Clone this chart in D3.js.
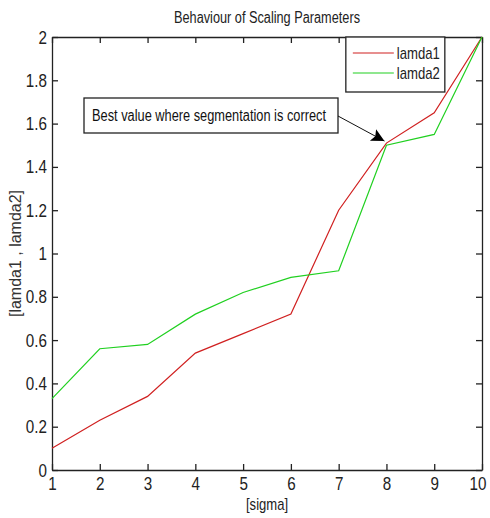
<!DOCTYPE html>
<html>
<head>
<meta charset="utf-8">
<script src="https://cdn.jsdelivr.net/npm/d3@7"></script>
<style>
  body { margin: 0; background: #fff; }
  text { font-family: "Liberation Sans", Arial, sans-serif; }
</style>
</head>
<body>
<div id="vis1"></div>
<script>
// chart values
let sigma = [1, 2, 3, 4, 5, 6, 7, 8, 9, 10]
let lamda1 = [0.1, 0.23, 0.34, 0.54, 0.63, 0.72, 1.2, 1.51, 1.65, 2.0]
let lamda2 = [0.33, 0.56, 0.58, 0.72, 0.82, 0.89, 0.92, 1.5, 1.55, 2.0]
let yTicks = [0, 0.2, 0.4, 0.6, 0.8, 1, 1.2, 1.4, 1.6, 1.8, 2]
let seriesNames = ['lamda1', 'lamda2']
let seriesColors = ['#d02020', '#20d020']
let noteText = 'Best value where segmentation is correct'
let noteAt = [8, 1.51]

let margin = { top: 37, left: 52, right: 8, bottom: 48 },
  width = 490 - margin.left - margin.right,
  height = 518 - margin.top - margin.bottom

let svg = d3.select('#vis1')
  .append('svg')
  .attr('width', 490)
  .attr('height', 518)

let g = svg.append('g')
  .attr('transform', `translate(${margin.left},${margin.top})`)

let x = d3.scaleLinear().domain([1, 10]).range([0, width])
let y = d3.scaleLinear().domain([0, 2]).range([height, 0])

// no narrow font installed, so squeeze text horizontally like Arial Narrow
function narrow(sel, k) {
  sel.each(function() {
    let w = this.getComputedTextLength()
    d3.select(this).attr('textLength', w * k).attr('lengthAdjust', 'spacingAndGlyphs')
  })
}

// axes: matlab-style ticks pointing inward on all four sides
let fmt = d => String(d)
let xAxis = g.append('g')
  .attr('transform', `translate(0,${height})`)
  .call(d3.axisBottom(x).tickValues(sigma).tickSizeInner(-6).tickSizeOuter(0).tickPadding(7).tickFormat(fmt))
g.append('g')
  .call(d3.axisTop(x).tickValues(sigma).tickSizeInner(-6).tickSizeOuter(0).tickFormat(''))
g.append('g')
  .call(d3.axisLeft(y).tickValues(yTicks).tickSizeInner(-6).tickSizeOuter(0).tickPadding(5).tickFormat(fmt))
g.append('g')
  .attr('transform', `translate(${width},0)`)
  .call(d3.axisRight(y).tickValues(yTicks).tickSizeInner(-6).tickSizeOuter(0).tickFormat(''))

g.selectAll('.tick text')
  .attr('font-size', 19)
  .attr('font-family', '"Liberation Sans", Arial, sans-serif')
  .attr('fill', '#222')
  .call(narrow, 0.8)
g.selectAll('.domain, .tick line').attr('stroke', '#222').attr('stroke-width', 1.3)

// last x label sits against the right edge, like the original
xAxis.selectAll('.tick text').filter(d => d === 10)
  .attr('text-anchor', 'end')
  .attr('x', 4)

// lines
let line = d3.line()
  .x((d, i) => x(sigma[i]))
  .y(d => y(d))

;[lamda1, lamda2].forEach((vals, k) => {
  g.append('path')
    .datum(vals)
    .attr('fill', 'none')
    .attr('stroke', seriesColors[k])
    .attr('stroke-width', 1.2)
    .attr('d', line)
})

// title and axis labels
svg.append('text')
  .attr('x', margin.left + width / 2)
  .attr('y', 23)
  .attr('text-anchor', 'middle')
  .attr('font-size', 16)
  .attr('fill', '#222')
  .text('Behaviour of Scaling Parameters')
  .attr('textLength', 186).attr('lengthAdjust', 'spacingAndGlyphs')

svg.append('text')
  .attr('x', margin.left + width / 2)
  .attr('y', 510)
  .attr('text-anchor', 'middle')
  .attr('font-size', 17)
  .attr('fill', '#222')
  .text('[sigma]')
  .attr('textLength', 42).attr('lengthAdjust', 'spacingAndGlyphs')

svg.append('text')
  .attr('transform', `translate(21,${margin.top + height / 2}) rotate(-90)`)
  .attr('text-anchor', 'middle')
  .attr('font-size', 17)
  .attr('fill', '#333')
  .text('[lamda1 , lamda2]')
  .attr('textLength', 127).attr('lengthAdjust', 'spacingAndGlyphs')

// legend
let leg = g.append('g').attr('transform', `translate(${x(7.15)},0)`)
leg.append('rect')
  .attr('width', 99).attr('height', 55)
  .attr('fill', '#fff').attr('stroke', '#222').attr('stroke-width', 1.3)
seriesNames.forEach((name, k) => {
  leg.append('line')
    .attr('x1', 7).attr('x2', 48)
    .attr('y1', 16 + k * 20).attr('y2', 16 + k * 20)
    .attr('stroke', seriesColors[k]).attr('stroke-width', 1.2)
  leg.append('text')
    .attr('x', 51).attr('y', 22 + k * 20)
    .attr('font-size', 17).attr('fill', '#222')
    .text(name)
    .attr('textLength', 43).attr('lengthAdjust', 'spacingAndGlyphs')
})

// annotation box with arrow
svg.append('defs').append('marker')
  .attr('id', 'head')
  .attr('viewBox', '0 0 10 10')
  .attr('refX', 10).attr('refY', 5)
  .attr('markerWidth', 16).attr('markerHeight', 13)
  .attr('markerUnits', 'userSpaceOnUse')
  .attr('orient', 'auto')
  .append('path').attr('d', 'M0,0 L10,5 L0,10 L2,5 z').attr('fill', '#000')

let note = svg.append('g')
note.append('rect')
  .attr('x', 84).attr('y', 98)
  .attr('width', 254).attr('height', 35)
  .attr('fill', '#fff').attr('stroke', '#222').attr('stroke-width', 1.3)
note.append('text')
  .attr('x', 92).attr('y', 121)
  .attr('font-size', 16).attr('fill', '#111')
  .text(noteText)
  .attr('textLength', 234).attr('lengthAdjust', 'spacingAndGlyphs')
note.append('line')
  .attr('x1', 338).attr('y1', 116)
  .attr('x2', margin.left + x(noteAt[0]) - 2)
  .attr('y2', margin.top + y(noteAt[1]) - 2)
  .attr('stroke', '#111').attr('stroke-width', 1)
  .attr('marker-end', 'url(#head)')
</script>
</body>
</html>
